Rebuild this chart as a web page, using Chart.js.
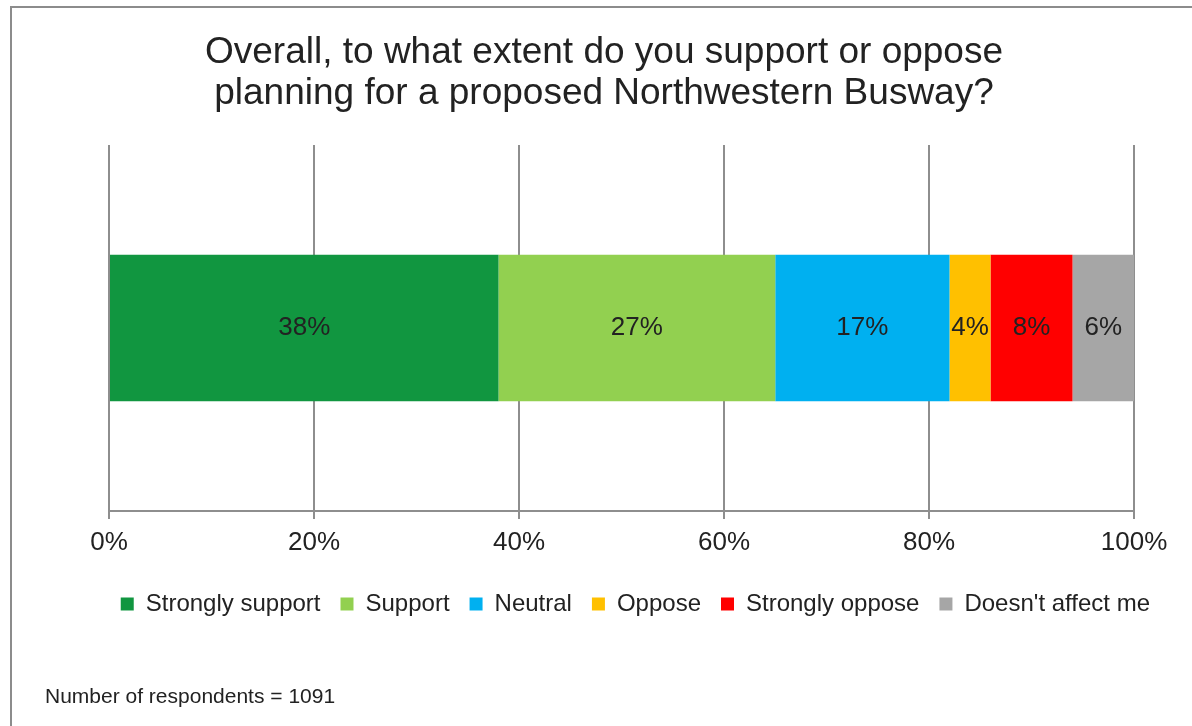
<!DOCTYPE html>
<html>
<head>
<meta charset="utf-8">
<script src="https://cdn.jsdelivr.net/npm/chart.js@4/dist/chart.umd.min.js"></script>
<style>
  html, body { margin: 0; padding: 0; background: #fff; }
  #wrap { position: relative; width: 1192px; height: 726px; }
  #note { position: absolute; left: 45px; top: 685px; font: 21px "Liberation Sans", Arial, sans-serif; line-height: 1; color: #222; white-space: nowrap; }
</style>
</head>
<body>
<div id="wrap">
  <canvas id="chart" width="1192" height="726"></canvas>
  <div id="note">Number of respondents = 1091</div>
</div>
<script>
const FONT = '"Liberation Sans", Arial, sans-serif';

const responses = ['Strongly support', 'Support', 'Neutral', 'Oppose', 'Strongly oppose', "Doesn't affect me"];
const shares = [38, 27, 17, 4, 8, 6];
const colours = ['#119640', '#92d050', '#00b0f0', '#ffc000', '#ff0000', '#a6a6a6'];
const pctTicks = [0, 20, 40, 60, 80, 100];
const titleLines = ['Overall, to what extent do you support or oppose', 'planning for a proposed Northwestern Busway?'];

// grey frame around the whole chart (right and bottom edges fall off the canvas)
const framePlugin = {
  id: 'frame',
  beforeDraw(chart) {
    const c = chart.ctx;
    c.save();
    c.strokeStyle = '#8c8c8c';
    c.lineWidth = 2;
    c.beginPath();
    c.moveTo(11, chart.height);
    c.lineTo(11, 7);
    c.lineTo(chart.width, 7);
    c.stroke();
    c.restore();
  }
};

// percentage written in the middle of each segment
const valueLabels = {
  id: 'valueLabels',
  afterDatasetsDraw(chart) {
    const c = chart.ctx;
    c.save();
    c.font = '26px ' + FONT;
    c.fillStyle = '#222';
    c.textAlign = 'center';
    c.textBaseline = 'middle';
    chart.data.datasets.forEach((ds, i) => {
      chart.getDatasetMeta(i).data.forEach((bar, j) => {
        c.fillText(ds.data[j] + '%', (bar.x + bar.base) / 2, bar.y);
      });
    });
    c.restore();
  }
};

const datasets = responses.map((name, i) => ({
  label: name,
  data: [shares[i]],
  backgroundColor: colours[i],
  borderWidth: 0,
  barPercentage: 0.4,
  categoryPercentage: 1
}));

new Chart(document.getElementById('chart'), {
  type: 'bar',
  data: { labels: [''], datasets },
  options: {
    responsive: false,
    animation: false,
    indexAxis: 'y',
    layout: { padding: { left: 38, right: 22, top: 0, bottom: 100 } },
    scales: {
      x: {
        stacked: true,
        min: 0,
        max: 100,
        afterBuildTicks: s => { s.ticks = pctTicks.map(v => ({ value: v })); },
        afterFit: s => { s.paddingRight = 58; s.height = 61; },
        ticks: {
          callback: v => v + '%',
          color: '#222',
          padding: 8,
          maxRotation: 0,
          font: { family: FONT, size: 26 }
        },
        grid: { color: '#8e8e8e', lineWidth: 2, tickLength: 8 },
        border: { color: '#8e8e8e', width: 2 }
      },
      y: {
        stacked: true,
        afterFit: s => { s.width = 71; },
        ticks: { display: false },
        grid: { display: false },
        border: { display: false }
      }
    },
    plugins: {
      title: {
        display: true,
        text: titleLines,
        color: '#222',
        font: { family: FONT, size: 37, weight: 'normal', lineHeight: 1.12 },
        padding: { top: 32, bottom: 30 }
      },
      legend: {
        position: 'bottom',
        align: 'end',
        labels: {
          boxWidth: 13,
          boxHeight: 13,
          padding: 20,
          color: '#222',
          font: { family: FONT, size: 24 }
        }
      },
      tooltip: { enabled: false }
    }
  },
  plugins: [framePlugin, valueLabels]
});
</script>
</body>
</html>
